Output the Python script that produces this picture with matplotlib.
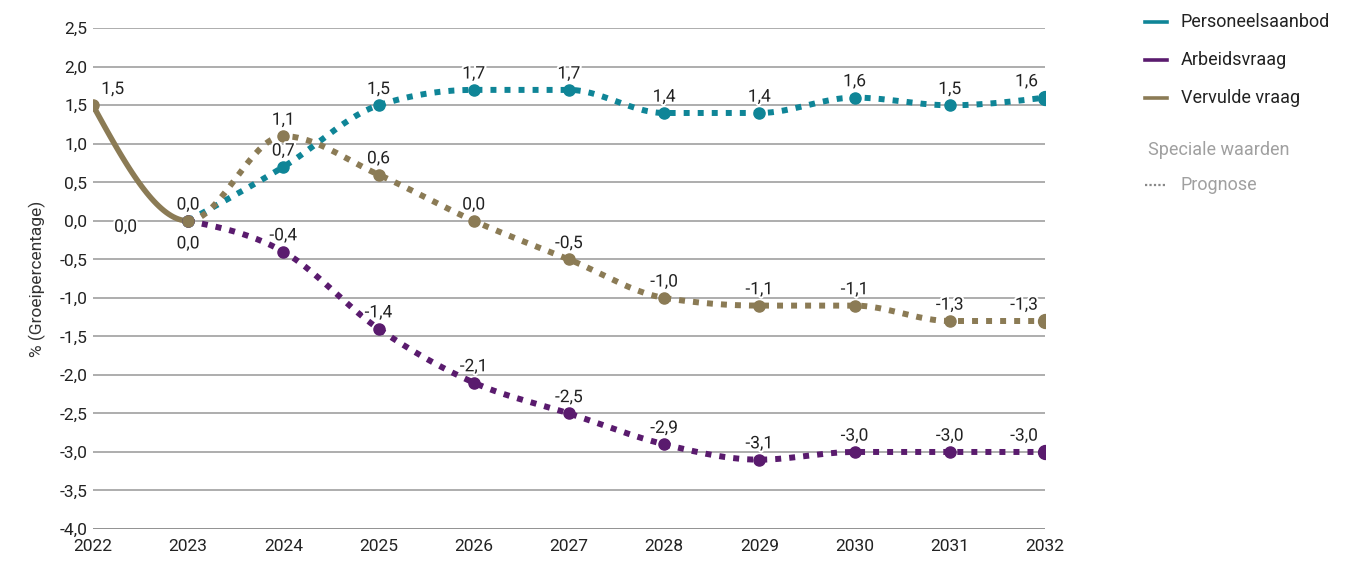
import numpy as np
import matplotlib.pyplot as plt
import matplotlib.patheffects as pe
from matplotlib.lines import Line2D

plt.rcParams['font.family'] = ['Roboto', 'DejaVu Sans']

years = [2022, 2023, 2024, 2025, 2026, 2027, 2028, 2029, 2030, 2031, 2032]
aanbod = [None, 0.0, 0.7, 1.5, 1.7, 1.7, 1.4, 1.4, 1.6, 1.5, 1.6]
vraag = [None, 0.0, -0.4, -1.4, -2.1, -2.5, -2.9, -3.1, -3.0, -3.0, -3.0]
vervuld = [1.5, 0.0, 1.1, 0.6, 0.0, -0.5, -1.0, -1.1, -1.1, -1.3, -1.3]
prognose_start = 2023

series = [
    ("Personeelsaanbod", aanbod, "#0f8597"),
    ("Arbeidsvraag", vraag, "#5a1b6e"),
    ("Vervulde vraag", vervuld, "#8b7b55"),
]

y_ticks = np.arange(-4.0, 2.51, 0.5)


def monotone_curve(x, y, n=40):
    # monotone cubic (Steffen) zoals d3.curveMonotoneX
    x = np.asarray(x, float)
    y = np.asarray(y, float)
    h = np.diff(x)
    s = np.diff(y) / h
    m = np.zeros_like(y)
    for i in range(1, len(x) - 1):
        p = (s[i - 1] * h[i] + s[i] * h[i - 1]) / (h[i - 1] + h[i])
        m[i] = (np.sign(s[i - 1]) + np.sign(s[i])) * min(abs(s[i - 1]), abs(s[i]), 0.5 * abs(p))
    if len(x) > 2:
        m[0] = (3 * s[0] - m[1]) / 2
        m[-1] = (3 * s[-1] - m[-2]) / 2
    else:
        m[0] = m[-1] = s[0]
    xs, ys = [], []
    for i in range(len(x) - 1):
        t = np.linspace(0, 1, n)
        h00 = 2 * t**3 - 3 * t**2 + 1
        h10 = t**3 - 2 * t**2 + t
        h01 = -2 * t**3 + 3 * t**2
        h11 = t**3 - t**2
        xs.append(x[i] + t * h[i])
        ys.append(h00 * y[i] + h10 * h[i] * m[i] + h01 * y[i + 1] + h11 * h[i] * m[i + 1])
    return np.concatenate(xs), np.concatenate(ys)


fig = plt.figure(figsize=(13.66, 5.65), dpi=100)
ax = fig.add_axes([0.068, 0.0637, 0.697, 0.8863])

halo = [pe.withStroke(linewidth=3, foreground="white")]

for name, vals, col in series:
    xv = [yr for yr, v in zip(years, vals) if v is not None]
    yv = [v for v in vals if v is not None]
    cx, cy = monotone_curve(xv, yv)
    hist = cx <= prognose_start
    fut = cx >= prognose_start
    if cx[0] < prognose_start:
        ax.plot(cx[hist], cy[hist], color=col, lw=4, solid_capstyle='round', zorder=3)
    ax.plot(cx[fut], cy[fut], color=col, lw=4.3, linestyle=(0, (1, 1.35)),
            dash_capstyle='butt', zorder=3)
    ax.plot(xv[:-1], yv[:-1], 'o', color=col, ms=8, zorder=4)
    ax.plot(xv[-1:], yv[-1:], 'o', color=col, ms=10, zorder=4)

# datalabels
for name, vals, col in series:
    for yr, v in zip(years, vals):
        if v is None:
            continue
        txt = f"{v:.1f}".replace('.', ',')
        dx, dy, ha = 0, 6, 'center'
        if yr == years[0]:
            dx, ha = 6, 'left'
        elif yr == years[-1]:
            dx, ha = -5, 'right'
        if yr == prognose_start:
            if name == "Arbeidsvraag":
                dy = -22
            elif name == "Vervulde vraag":
                dx, dy, ha = -45, -10, 'center'
        ax.annotate(txt, (yr, v), xytext=(dx, dy), textcoords='offset points',
                    ha=ha, va='bottom', fontsize=12.5, color='#222222',
                    path_effects=halo, zorder=5)

ax.set_xlim(years[0], years[-1])
ax.set_ylim(-4.0, 2.5)
ax.set_xticks(years)
ax.set_yticks(y_ticks)
ax.set_yticklabels([f"{t:.1f}".replace('.', ',') for t in y_ticks])
ax.tick_params(axis='both', length=0, labelsize=12.5, labelcolor='#222222')
ax.tick_params(axis='x', pad=7)
ax.tick_params(axis='y', pad=4)
ax.grid(axis='y', color='#a0a0a0', lw=1.2, zorder=0)
for sp in ax.spines.values():
    sp.set_visible(False)
ax.axhline(-4.0, color='#555555', lw=1.4, zorder=1)
ax.set_ylabel("% (Groeipercentage)", fontsize=12.5, color='#333333', labelpad=10)

# legenda
lx, tx = 0.8385, 0.8645
for i, (name, vals, col) in enumerate(series):
    yy = 1 - (22 + i * 38) / 565
    fig.add_artist(Line2D([lx, lx + 0.016], [yy, yy], color=col, lw=2.6,
                          transform=fig.transFigure))
    fig.text(tx, yy, name, fontsize=13, color='#222222', va='center')
fig.text(0.8405, 1 - 150 / 565, "Speciale waarden", fontsize=13, color='#a0a0a0', va='center')
yy = 1 - 185 / 565
fig.add_artist(Line2D([lx, lx + 0.016], [yy, yy], color='#888888', lw=1.6,
                      linestyle=(0, (1, 1)), transform=fig.transFigure))
fig.text(tx, yy, "Prognose", fontsize=13, color='#a0a0a0', va='center')

fig.savefig("out.png", dpi=100)
